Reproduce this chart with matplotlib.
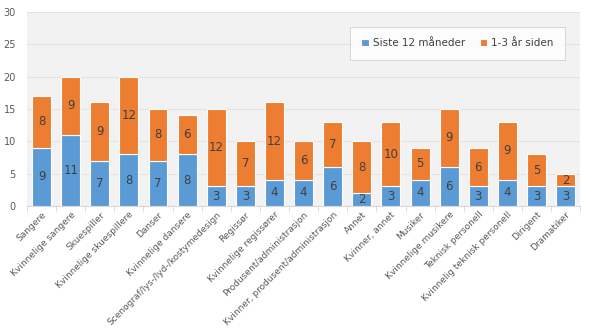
import matplotlib.pyplot as plt
import numpy as np

categories = ["Sangere", "Kvinnelige sangere", "Skuespiller", "Kvinnelige skuespillere",
              "Danser", "Kvinnelige dansere", "Scenograf/lys-/lyd-/kostymedesign", "Regissør",
              "Kvinnelige regissører", "Produsent/administrasjon",
              "Kvinner, produsent/administrasjon", "Annet", "Kvinner, annet", "Musiker",
              "Kvinnelige musikere", "Teknisk personell", "Kvinnelig teknisk personell",
              "Dirigent", "Dramatiker"]
siste_12 = [9, 11, 7, 8, 7, 8, 3, 3, 4, 4, 6, 2, 3, 4, 6, 3, 4, 3, 3]
aar_1_3 = [8, 9, 9, 12, 8, 6, 12, 7, 12, 6, 7, 8, 10, 5, 9, 6, 9, 5, 2]

blue = "#5b9bd5"
orange = "#ed7d31"

fig = plt.figure(figsize=(6, 3.31), dpi=100)
ax = fig.add_axes([0.045, 0.378, 0.922, 0.586])
ax.set_facecolor("#f2f2f2")

x = np.arange(len(categories))
w = 0.65
ax.bar(x, siste_12, w, color=blue, edgecolor="white", linewidth=0.8,
       label="Siste 12 måneder", zorder=3)
ax.bar(x, aar_1_3, w, bottom=siste_12, color=orange, edgecolor="white", linewidth=0.8,
       label="1-3 år siden", zorder=3)

# value labels centred in each segment
for i in range(len(categories)):
    ax.text(x[i], siste_12[i] / 2, str(siste_12[i]), ha="center", va="center",
            fontsize=8.5, color="#404040", zorder=4)
    ax.text(x[i], siste_12[i] + aar_1_3[i] / 2, str(aar_1_3[i]), ha="center", va="center",
            fontsize=8.5, color="#404040", zorder=4)

ax.set_xlim(-0.5, len(categories) - 0.5)
ax.set_ylim(0, 30)
ax.set_yticks(range(0, 31, 5))
ax.yaxis.grid(True, color="#e2e2e2", linewidth=0.8, zorder=0)
ax.set_axisbelow(True)

ax.set_xticks(x)
ax.set_xticklabels(categories, rotation=45, ha="right", rotation_mode="anchor",
                   fontsize=6.5, color="#595959")
ax.tick_params(axis="x", length=0, pad=3)
ax.set_xticks(np.arange(-0.5, len(categories), 1), minor=True)
ax.tick_params(axis="x", which="minor", length=4, color="#d9d9d9")
ax.tick_params(axis="y", length=0, labelsize=7, labelcolor="#595959", pad=8)

for s in ["top", "right", "left"]:
    ax.spines[s].set_visible(False)
ax.spines["bottom"].set_color("#d9d9d9")

leg = ax.legend(loc="upper right", bbox_to_anchor=(0.982, 0.95), ncol=2, fontsize=7.5,
                frameon=True, fancybox=False, shadow=False, handlelength=0.7,
                handleheight=0.7, columnspacing=1.4, borderpad=1.1, handletextpad=0.4)
leg.get_frame().set_facecolor("white")
leg.get_frame().set_edgecolor("#c8c8c8")
leg.get_frame().set_linewidth(0.6)
for t in leg.get_texts():
    t.set_color("#404040")

fig.savefig("out.png", dpi=100)
